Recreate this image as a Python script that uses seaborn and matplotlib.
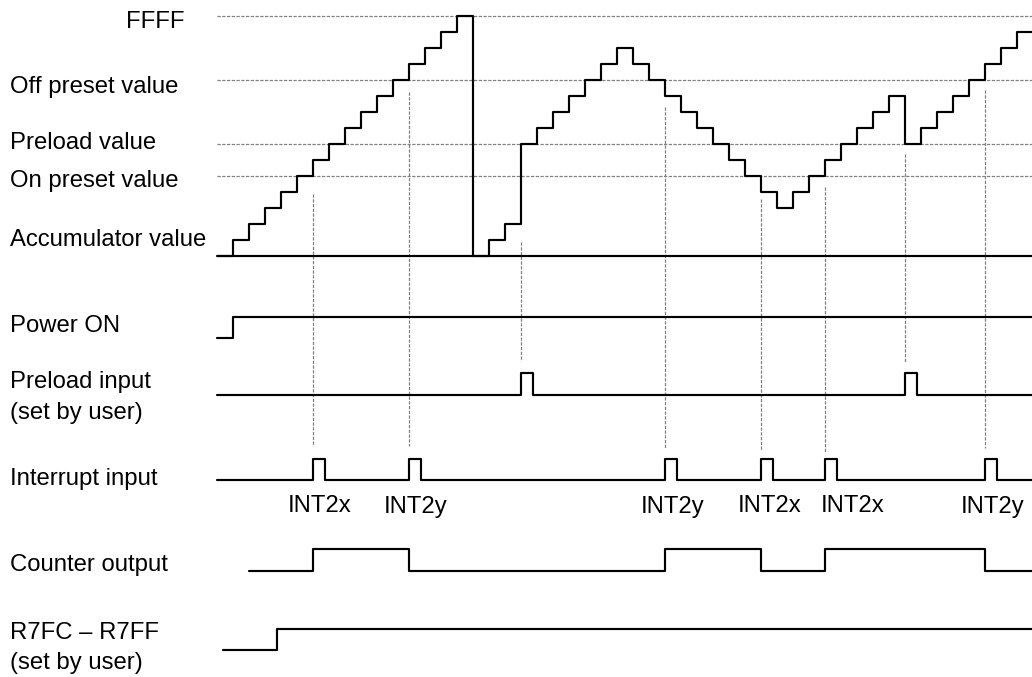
import matplotlib
matplotlib.use("Agg")
import matplotlib.pyplot as plt
import matplotlib.transforms as mtransforms
import pandas as pd
import seaborn as sns

sns.set_style("white")
plt.rcParams["font.family"] = ["Liberation Sans", "DejaVu Sans"]

# ---------------- data ----------------
# accumulator: clock tick index and counter level (in steps) after each tick
ACC_TIMES = [-1] + list(range(50))
ACC_LEVELS = [0,
              1, 2, 3, 4, 5, 6, 7, 8, 9, 10, 11, 12, 13, 14, 15,
              0, 1, 2, 7, 8, 9, 10, 11, 12, 13, 12, 11, 10, 9, 8, 7, 6, 5, 4,
              3, 4, 5, 6, 7, 8, 9, 10, 7, 8, 9, 10, 11, 12, 13, 14]

GUIDE_LEVELS = [15, 11, 7, 5]
GUIDE_LABELS = ["FFFF", "Off preset value", "Preload value", "On preset value"]

POWER_TIMES = [-1, 0]
POWER_VALUES = [0, 1]

PRELOAD_PULSES = [18, 42]
INTERRUPT_PULSES = [5, 11, 27, 33, 37, 47]
INT_LABELS = ["INT2x", "INT2y", "INT2y", "INT2x", "INT2x", "INT2y"]
INT_LABEL_POS = [5.42, 11.42, 27.45, 33.52, 38.73, 47.48]

COUNTER_TIMES = [1, 5, 11, 27, 33, 37, 47]
COUNTER_VALUES = [0, 1, 0, 1, 0, 1, 0]

R7_TIMES = [-0.65, 2.71]
R7_VALUES = [0, 1]

MARK_TIMES = [5, 11, 18, 27, 33, 37, 42, 47]
MARK_TOP = [194, 92, 242, 107, 199, 187, 154, 90]
MARK_BOTTOM = [446, 446, 361, 448, 450, 453, 363, 448]

# ---------------- layout ----------------
W, H = 1032, 677
T0_PX, STEP_PX = 233.3, 16.0
X_MIN = -T0_PX / STEP_PX
X_MAX = (W - T0_PX) / STEP_PX
X_END = X_MAX + 0.5
PULSE_W = 0.7
LW = 1.55
FS = 17.2
GUIDE_STYLE = dict(color="#808080", linewidth=0.9, linestyles=(0, (2.6, 1.2)))

fig = plt.figure(figsize=(W / 100, H / 100), dpi=100)
ax = fig.add_axes([0, 0, 1, 1])
ax.set_xlim(X_MIN, X_MAX)
ax.set_ylim(H, 0)
ax.axis("off")


def overlay(base_px, unit_px):
    a = fig.add_axes([0, 0, 1, 1], sharex=ax)
    a.patch.set_alpha(0)
    a.axis("off")
    a._lims = ((base_px - H) / unit_px, base_px / unit_px)
    return a


def step(a, times, values):
    df = pd.DataFrame({"t": list(times) + [X_END],
                       "v": list(values) + [values[-1]]})
    sns.lineplot(data=df, x="t", y="v", ax=a, drawstyle="steps-post",
                 estimator=None, sort=False, color="black", linewidth=LW)


def pulses(starts, width):
    times, vals = [-1], [0]
    for s in starts:
        times += [s, s + width]
        vals += [1, 0]
    return times, vals


# accumulator
acc = overlay(256, 16)
acc.hlines(GUIDE_LEVELS, -1, X_END, **GUIDE_STYLE)
acc.hlines([0], -1, X_END, color="black", linewidth=LW)
step(acc, ACC_TIMES, ACC_LEVELS)

# dashed marker lines (pixel overlay)
ax.vlines(MARK_TIMES, MARK_TOP, MARK_BOTTOM, **GUIDE_STYLE)

# digital rows
rows = {}
rows["power"] = overlay(338.3, 21.6)
step(rows["power"], POWER_TIMES, POWER_VALUES)

rows["preload"] = overlay(394.7, 21.7)
pt, pv = pulses(PRELOAD_PULSES, PULSE_W)
step(rows["preload"], pt, pv)

rows["interrupt"] = overlay(480.0, 21.0)
it, iv = pulses(INTERRUPT_PULSES, PULSE_W)
step(rows["interrupt"], it, iv)

rows["counter"] = overlay(570.5, 21.2)
step(rows["counter"], COUNTER_TIMES, COUNTER_VALUES)

rows["r7"] = overlay(650.0, 21.0)
step(rows["r7"], R7_TIMES, R7_VALUES)

for a in [acc] + list(rows.values()):
    a.set_ylim(*a._lims)
    a.set_xlim(X_MIN, X_MAX)
    a.axis("off")

# ---------------- texts ----------------
tr = mtransforms.blended_transform_factory(ax.transAxes, ax.transData)
left = 10 / W
text_kw = dict(fontsize=FS, color="black", va="baseline", transform=tr)

ax.text(185 / W, 28.3, GUIDE_LABELS[0], ha="right", **text_kw)
ax.text(left, 93.0, GUIDE_LABELS[1], ha="left", **text_kw)
ax.text(left, 149.0, GUIDE_LABELS[2], ha="left", **text_kw)
ax.text(left, 187.0, GUIDE_LABELS[3], ha="left", **text_kw)
ax.text(left, 245.5, "Accumulator value", ha="left", **text_kw)
ax.text(left, 332.0, "Power ON", ha="left", **text_kw)
ax.text(left, 388.3, "Preload input", ha="left", **text_kw)
ax.text(left, 418.5, "(set by user)", ha="left", **text_kw)
ax.text(left, 485.0, "Interrupt input", ha="left", **text_kw)
ax.text(left, 571.0, "Counter output", ha="left", **text_kw)
ax.text(left, 639.0, "R7FC \u2013 R7FF", ha="left", **text_kw)
ax.text(left, 669.0, "(set by user)", ha="left", **text_kw)

for lab, pos in zip(INT_LABELS, INT_LABEL_POS):
    ax.text(pos, 512.5, lab, ha="center", va="baseline", fontsize=FS,
            color="black")

fig.savefig("out.png", dpi=100)
